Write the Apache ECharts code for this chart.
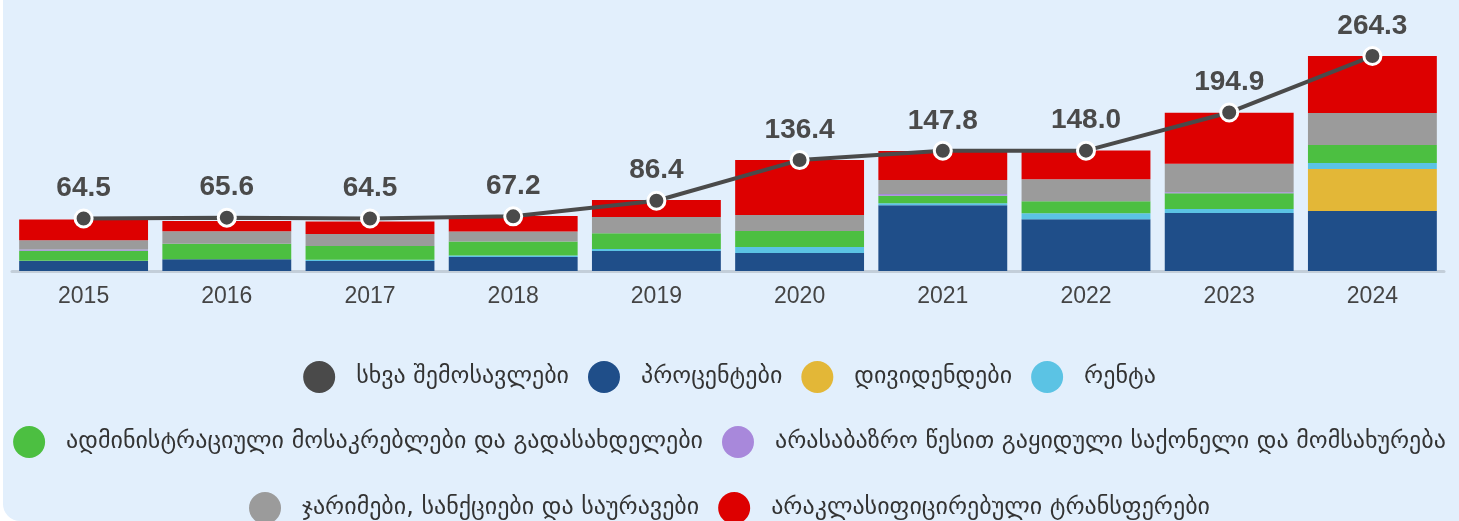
<!DOCTYPE html>
<html>
<head>
<meta charset="utf-8">
<script src="https://cdn.jsdelivr.net/npm/echarts@6/dist/echarts.min.js"></script>
<style>
  html, body { margin: 0; padding: 0; background: #fff; overflow: hidden; }
  .bg {
    position: absolute; left: 3px; top: -20px; width: 1480px; height: 541px;
    background: #E2EFFC; border-radius: 17px;
  }
  #chart { position: absolute; left: 0; top: 0; width: 1459px; height: 521px; }
</style>
</head>
<body>
<div class="bg"></div>
<div id="chart"></div>
<script>
// წლები
const years = ['2015', '2016', '2017', '2018', '2019', '2020', '2021', '2022', '2023', '2024'];

// სერიები (მლნ ლარი)
const interest  = [12.3, 14.3, 12.3, 17.2, 24.6, 22.1, 80.7, 63.5, 71.3, 73.8];
const dividends = [0, 0, 0, 0, 0, 0, 0, 0, 0, 51.6];
const rent      = [0.3, 0, 1.5, 2.0, 2.5, 7.4, 2.5, 7.4, 4.9, 7.4];
const admin     = [12.3, 19.3, 16.8, 17.2, 19.3, 19.7, 9.4, 14.8, 19.3, 22.1];
const nonMarket = [1.5, 0, 0, 0, 0, 0, 2.0, 0, 1.2, 0];
const fines     = [11.5, 15.2, 14.8, 12.3, 20.1, 19.7, 17.2, 27.0, 35.2, 39.3];
const transfers = [25.4, 12.7, 15.6, 18.8, 20.9, 67.6, 35.6, 35.6, 62.7, 70.1];
const totals    = [64.5, 65.6, 64.5, 67.2, 86.4, 136.4, 147.8, 148.0, 194.9, 264.3];

const names = {
  other: 'სხვა შემოსავლები',
  interest: 'პროცენტები',
  dividends: 'დივიდენდები',
  rent: 'რენტა',
  admin: 'ადმინისტრაციული მოსაკრებლები და გადასახდელები',
  nonMarket: 'არასაბაზრო წესით გაყიდული საქონელი და მომსახურება',
  fines: 'ჯარიმები, სანქციები და საურავები',
  transfers: 'არაკლასიფიცირებული ტრანსფერები'
};

let chart = echarts.init(document.getElementById('chart'));

function bar(name, data, color) {
  return {
    name: name,
    type: 'bar',
    stack: 'total',
    data: data,
    barCategoryGap: '10%',
    itemStyle: { color: color }
  };
}

const legendBase = {
  icon: 'circle',
  itemWidth: 32,
  itemHeight: 32,
  itemGap: 19,
  left: 'center',
  padding: 0,
  itemStyle: { borderWidth: 0 },
  textStyle: {
    fontFamily: 'DejaVu Sans',
    fontSize: 24,
    color: '#333',
    padding: [0, 0, 0, 16]
  }
};

chart.setOption({
  animation: false,
  grid: {
    left: 12,
    right: 15,
    top: 27,
    bottom: 250
  },
  legend: [
    Object.assign({}, legendBase, { top: 361, data: [names.other, names.interest, names.dividends, names.rent] }),
    Object.assign({}, legendBase, { top: 426, data: [names.admin, names.nonMarket] }),
    Object.assign({}, legendBase, { top: 492, data: [names.fines, names.transfers] })
  ],
  xAxis: {
    type: 'category',
    data: years,
    axisLine: {
      lineStyle: { color: '#C3CED9', width: 3 }
    },
    axisTick: { show: false },
    axisLabel: {
      color: '#444',
      fontFamily: 'Liberation Sans',
      fontSize: 23,
      margin: 14
    }
  },
  yAxis: {
    type: 'value',
    min: 0,
    max: 300,
    show: false,
    splitLine: { show: false }
  },
  series: [
    bar(names.interest, interest, '#1F4E89'),
    bar(names.dividends, dividends, '#E3B737'),
    bar(names.rent, rent, '#5BC3E4'),
    bar(names.admin, admin, '#4CBF41'),
    bar(names.nonMarket, nonMarket, '#A888DB'),
    bar(names.fines, fines, '#9B9B9B'),
    bar(names.transfers, transfers, '#DD0000'),
    {
      name: names.other,
      type: 'line',
      data: totals,
      z: 10,
      symbol: 'circle',
      symbolSize: 17,
      lineStyle: { color: '#4A4A4A', width: 4 },
      itemStyle: { color: '#4A4A4A', borderColor: '#fff', borderWidth: 3 },
      label: {
        show: true,
        position: 'top',
        distance: 6,
        color: '#4A4A4A',
        fontFamily: 'Liberation Sans',
        fontSize: 28,
        fontWeight: 'bold',
        formatter: p => p.value.toFixed(1)
      }
    }
  ]
});
</script>
</body>
</html>
